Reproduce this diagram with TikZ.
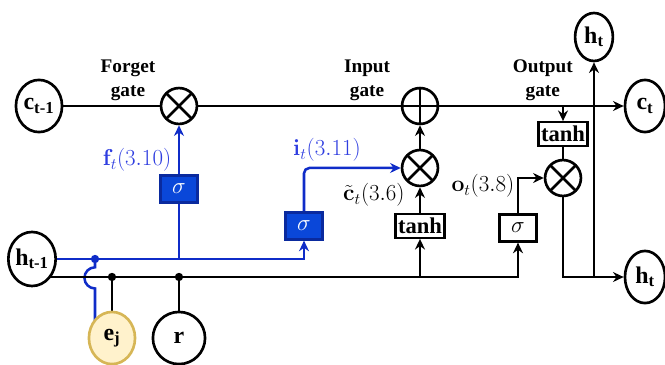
\documentclass[tikz,border=0pt]{standalone}
\usepackage[no-math]{fontspec}
\setmainfont{Liberation Serif}
\usepackage{amsmath}
\usetikzlibrary{positioning, shapes.geometric, arrows.meta, calc, backgrounds}
\definecolor{gateblue}{HTML}{0F2CC8}
\definecolor{boxblue}{HTML}{0A47D9}
\definecolor{boxedge}{HTML}{0A2A9E}
\definecolor{labelblue}{HTML}{2E3DE0}
\definecolor{embfill}{HTML}{FFF2CC}
\definecolor{embedge}{HTML}{D6B656}

\begin{document}
\begin{tikzpicture}[
    on grid,
    state/.style={draw=black, line width=2pt, ellipse, fill=white, inner sep=0pt, minimum width=1.22cm, minimum height=1.38cm, font=\fontsize{18}{20}\selectfont\bfseries},
    mult/.style={draw=black, line width=2pt, circle, fill=white, minimum size=0.95cm, path picture={\draw[line width=2pt] (path picture bounding box.north west) -- (path picture bounding box.south east) (path picture bounding box.north east) -- (path picture bounding box.south west);}},
    plus/.style={draw=black, line width=2pt, circle, fill=white, minimum size=0.95cm, path picture={\draw[line width=2pt] (path picture bounding box.north) -- (path picture bounding box.south) (path picture bounding box.west) -- (path picture bounding box.east);}},
    tanhbox/.style={draw=black, line width=1.8pt, rectangle, fill=white, inner xsep=2pt, inner ysep=1pt, minimum height=0.62cm, font=\fontsize{17}{19}\selectfont\bfseries},
    sigbox/.style={draw=black, line width=1.8pt, rectangle, fill=white, inner sep=0pt, minimum width=0.97cm, minimum height=0.71cm, font=\fontsize{17}{19}\selectfont},
    bluesig/.style={sigbox, draw=boxedge, fill=boxblue, text=white},
    wire/.style={line width=1.9pt},
    bluewire/.style={wire, draw=gateblue},
    arr/.style={-{Stealth[length=8pt, width=7.5pt]}},
    varlabel/.style={font=\fontsize{16.5}{18}\selectfont},
    gatelabel/.style={align=center, font=\fontsize{14.5}{18}\selectfont\bfseries},
    dot/.style={circle, inner sep=0pt, minimum size=0.22cm}
]
\useasboundingbox (-4.736,-6.827) rectangle (12.860,2.805);

% --- KNOTEN ---
% Zellzustand oben
\node[mult] (fmul) {};
\node[state, left=3.704cm of fmul] (cprev) {$\textbf{c}_{\textbf{t-1}}$};
\node[plus, right=6.377cm of fmul] (iadd) {};
\node[state, right=5.954cm of iadd, minimum width=1.06cm] (ct) {$\textbf{c}_{\textbf{t}}$};
\node[state, above right=1.826cm and 4.604cm of iadd, minimum width=1.0cm, minimum height=1.27cm] (htop) {$\textbf{h}_{\textbf{t}}$};

% Forget gate
\node[bluesig, below=2.196cm of fmul] (fsig) {$\sigma$};

% Input gate
\node[mult, below=1.64cm of iadd] (imul) {};
\node[tanhbox, below=1.535cm of imul] (itanh) {tanh};
\node[bluesig, left=3.069cm of itanh] (isig) {$\sigma$};

% Output gate
\node[tanhbox, below right=0.741cm and 3.784cm of iadd] (otanh) {tanh};
\node[mult, below=1.164cm of otanh] (omul) {};
\node[sigbox, below left=1.323cm and 1.191cm of omul] (osig) {$\sigma$};

% Eingaenge unten
\node[state, below left=4.048cm and 0.185cm of cprev, minimum width=1.25cm, minimum height=1.43cm] (hprev) {$\textbf{h}_{\textbf{t-1}}$};
\node[state, below=6.139cm of fmul, minimum width=1.38cm] (r) {r};
\node[state, left=1.773cm of r, draw=embedge, fill=embfill] (ej) {$\textbf{e}_{\textbf{j}}$};
\node[state, below=4.525cm of ct, minimum width=1.06cm] (htout) {$\textbf{h}_{\textbf{t}}$};

% Hilfspunkte fuer die beiden Leitungen
\coordinate[right=1.667cm of hprev] (tap);
\coordinate[below=0.476cm of hprev] (bus0);

% Beschriftungen
\node[gatelabel, above left=0.69cm and 1.35cm of fmul] (flab) {Forget\\gate};
\node[gatelabel, above left=0.69cm and 1.40cm of iadd] (ilab) {Input\\gate};
\node[gatelabel, above right=0.69cm and 3.25cm of iadd] (olab) {Output\\gate};
\node[varlabel, text=labelblue, above left=0.77cm and 1.11cm of fsig] {$\mathbf{f}_t(3.10)$};
\node[varlabel, text=labelblue, above left=0.48cm and 2.46cm of imul] {$\mathbf{i}_t(3.11)$};
\node[varlabel, below left=0.71cm and 1.22cm of imul] {$\tilde{\mathbf{c}}_t(3.6)$};
\node[varlabel, below left=0.21cm and 2.12cm of omul] {$\mathbf{o}_t(3.8)$};

% --- KANTEN ---
\begin{scope}[on background layer]
% 1. Zellzustand
\draw[wire] (cprev.east) -- (fmul.west);
\draw[wire] (fmul.east) -- (iadd.west);
\draw[wire, arr] (iadd.east) -- (ct.west);

% 2. blaue Leitung h_{t-1}
\draw[bluewire, arr] (hprev.east) -| (isig.south);
\draw[bluewire] (fsig.south) -- (fsig |- hprev.east);
\draw[bluewire, arr] (fsig.north) -- (fmul.south);
\draw[bluewire, arr, rounded corners=4pt] (isig.north) |- (imul.west);
\draw[bluewire] (tap) -- ++(0,-0.22) arc[start angle=90, end angle=270, radius=0.28] -- (tap |- ej);

% 3. schwarze Leitung
\draw[wire, arr] (bus0) -| (osig.south);
\draw[wire] (ej |- bus0) -- (ej);
\draw[wire] (r |- bus0) -- (r);
\draw[wire, arr] (itanh |- bus0) -- (itanh.south);
\draw[wire, arr] (itanh.north) -- (imul.south);
\draw[wire, arr] (imul.north) -- (iadd.south);

% 4. Ausgang
\draw[wire, arr] (otanh |- iadd) -- (otanh.north);
\draw[wire] (otanh.south) -- (omul.north);
\draw[wire, arr] (osig.north) |- (omul.west);
\draw[wire, arr] (omul.south) |- (htout.west);
\draw[wire, arr] (htop |- htout) -- (htop.south);
\end{scope}

% Verzweigungspunkte
\node[dot, fill=gateblue] at (tap) {};
\node[dot, fill=black] at (ej |- bus0) {};
\node[dot, fill=black] at (r |- bus0) {};

\end{tikzpicture}
\end{document}
